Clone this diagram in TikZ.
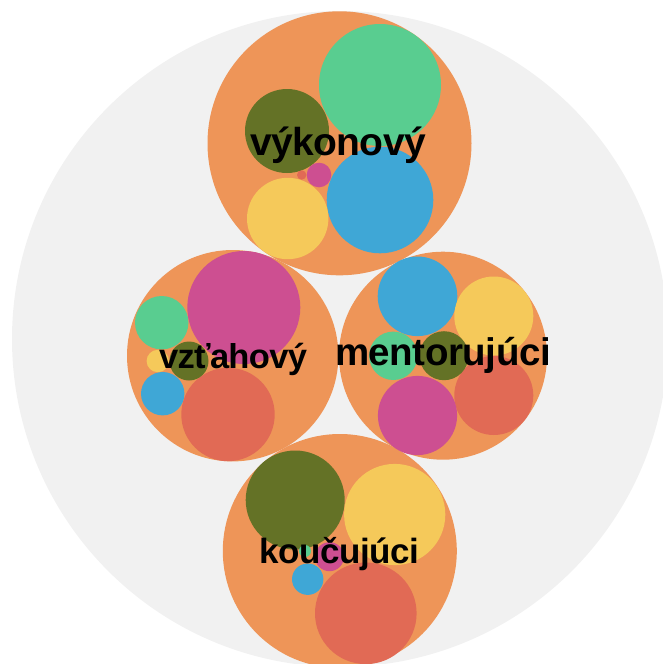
\documentclass[tikz,border=0pt]{standalone}
\usepackage{fontspec}
\setmainfont{Liberation Sans}
\usepackage{xcolor}
\usetikzlibrary{positioning}

\definecolor{packgrey}{HTML}{F1F1F1}
\definecolor{packorange}{HTML}{EE9558}
\definecolor{packgreen}{HTML}{59CD90}
\definecolor{packblue}{HTML}{3FA7D6}
\definecolor{packyellow}{HTML}{F5C95A}
\definecolor{packmagenta}{HTML}{CD4F91}
\definecolor{packred}{HTML}{E16A55}
\definecolor{packolive}{HTML}{647226}

\tikzset{
  groupname/.style={anchor=base, inner sep=0pt, text=black},
}

\begin{document}
\begin{tikzpicture}[x=1pt, y=-1pt]
    \useasboundingbox (0,0) rectangle (663,664);
    \clip (0,0) rectangle (663,664);

    % Outer circle
    \fill[packgrey] (340,339) circle (328pt);

    % Group circles
    \fill[packorange] (339.5,143.3) circle (132pt);
    \fill[packorange] (232.7,355.7) circle (105.7pt);
    \fill[packorange] (443,355.7) circle (104pt);
    \fill[packorange] (339.8,551) circle (117pt);

    % výkonový
    \fill[packgreen]   (380,85)      circle (61pt);
    \fill[packolive]   (287,131)     circle (42pt);
    \fill[packblue]    (380,200)     circle (53.3pt);
    \fill[packyellow]  (287.7,218.5) circle (40.7pt);
    \fill[packmagenta] (319,175)     circle (12.3pt);
    \fill[packred]     (301.7,175)   circle (4.7pt);

    % vzťahový
    \fill[packmagenta] (243.8,307.5) circle (56.5pt);
    \fill[packred]     (228,414.5)   circle (46.7pt);
    \fill[packgreen]   (161.7,322.7) circle (26.7pt);
    \fill[packblue]    (162.7,393.7) circle (21.7pt);
    \fill[packyellow]  (157.8,361)   circle (11.2pt);
    \fill[packolive]   (189,361)     circle (19.5pt);

    % mentorujúci
    \fill[packblue]    (417.5,296.3) circle (39.8pt);
    \fill[packyellow]  (493.8,316)   circle (39.5pt);
    \fill[packred]     (493.8,395.5) circle (39.5pt);
    \fill[packmagenta] (417.5,415.5) circle (39.6pt);
    \fill[packgreen]   (393.3,355.8) circle (24.2pt);
    \fill[packolive]   (444,355.7)   circle (24.5pt);

    % koučujúci
    \fill[packolive]   (295.2,500)   circle (49.5pt);
    \fill[packyellow]  (394.7,514.5) circle (50.6pt);
    \fill[packred]     (365.8,613.3) circle (50.8pt);
    \fill[packblue]    (307.7,579.2) circle (15.7pt);
    \fill[packmagenta] (329.5,556.7) circle (14.5pt);
    \fill[packgreen]   (305,551)     circle (6pt);

    % Group names
    \node[groupname, font=\bfseries\fontsize{39}{45}\selectfont\addfontfeatures{LetterSpace=-1.5}] (vykonovy) at (338,155) {výkonový};
    \node[groupname, font=\bfseries\fontsize{34.5}{40}\selectfont\addfontfeatures{LetterSpace=-2}] (vztahovy) at (233,368) {vzťahový};
    \node[groupname, font=\bfseries\fontsize{38.5}{45}\selectfont\addfontfeatures{LetterSpace=-1.2}] (mentorujuci) at (443,365) {mentorujúci};
    \node[groupname, font=\bfseries\fontsize{35}{41}\selectfont\addfontfeatures{LetterSpace=-1.2}] (koucujuci) at (339.5,563) {koučujúci};
\end{tikzpicture}
\end{document}
